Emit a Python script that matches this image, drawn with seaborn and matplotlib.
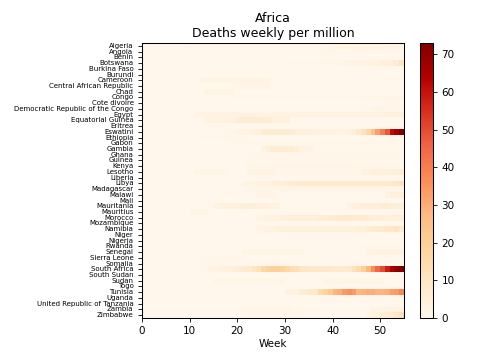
import numpy as np
import pandas as pd
import matplotlib
matplotlib.use("Agg")
import matplotlib.pyplot as plt
import seaborn as sns

countries = [
    "Algeria", "Angola", "Benin", "Botswana", "Burkina Faso", "Burundi", "Cameroon",
    "Central African Republic", "Chad", "Congo", "Cote divoire",
    "Democratic Republic of the Congo", "Egypt", "Equatorial Guinea", "Eritrea",
    "Eswatini", "Ethiopia", "Gabon", "Gambia", "Ghana", "Guinea", "Kenya", "Lesotho",
    "Liberia", "Libya", "Madagascar", "Malawi", "Mali", "Mauritania", "Mauritius",
    "Morocco", "Mozambique", "Namibia", "Niger", "Nigeria", "Rwanda", "Senegal",
    "Sierra Leone", "Somalia", "South Africa", "South Sudan", "Sudan", "Togo",
    "Tunisia", "Uganda", "United Republic of Tanzania", "Zambia", "Zimbabwe",
]
n_weeks = 55
x_ticks = [0, 10, 20, 30, 40, 50]

# country -> list of (first week, weekly values); other weeks are 0
segments = {
    "Algeria": [(8, [1, 1, 1, 1, 1, 1, 1, 1, 1, 1, 1, 1, 1, 1, 1, 1, 1, 1, 1, 1, 1, 1, 1, 1,
                     1, 1, 1, 1, 1, 1, 1, 1, 1.5, 2, 2, 2, 2, 2, 2, 2, 2, 2, 2, 1.5, 1.5, 1.5, 1.5])],
    "Angola": [(38, [1, 1, 1, 1, 1, 1, 1, 1, 1, 1, 1, 1, 1, 1, 1, 1, 1])],
    "Botswana": [(30, [1, 1, 1, 1, 1, 1, 1, 1, 1, 1, 1, 1.5, 1.5, 2, 2, 2, 2, 3, 3, 3, 4, 4, 5, 6, 11])],
    "Cameroon": [(12, [2, 2, 2, 2, 2, 2, 2, 2.5, 2.5, 2.5, 2.5, 2, 2, 2, 2])],
    "Central African Republic": [(19, [1.5, 1.5, 1.5, 1.5, 1.5, 1.5, 1.5, 1.5])],
    "Chad": [(13, [2, 2, 2, 2, 2, 2])],
    "Congo": [(19, [1, 1, 1, 1, 1, 1, 1, 1, 1, 1, 1, 1, 1, 1, 1, 1, 1, 1, 1, 1, 1, 1, 1, 1,
                    1, 1, 1, 1, 1.5, 1.5, 1.5, 1.5, 1.5, 1.5, 1.5, 1.5])],
    "Cote divoire": [(20, [0.5] * 35)],
    "Democratic Republic of the Congo": [(46, [1, 1, 1.5, 1.5, 1.5, 1, 1, 1, 1])],
    "Egypt": [(11, [2, 2, 2, 2, 3, 3, 3, 3, 3, 3, 3, 3, 3, 3, 3, 3, 3, 3, 3, 3, 3, 3,
                    3, 3, 3, 3, 3, 3, 3, 3, 3, 3, 3, 3, 3, 3, 3, 3, 3, 3, 4, 4, 4, 4])],
    "Equatorial Guinea": [(13, [3, 3, 3, 3, 3, 3.5, 3.5, 6, 6, 6, 6, 6.5, 6.5, 6.5, 4, 4, 4, 4])],
    "Eswatini": [(19, [1, 2, 2, 2, 3, 4, 6, 7, 7, 7, 7, 7, 6, 5, 4, 4, 4, 3, 3, 3, 3, 2, 2,
                       2, 3, 5, 8, 12, 17, 25, 33, 40, 48, 62, 66, 73])],
    "Ethiopia": [(12, [1, 1, 1, 1, 1, 1, 1, 1, 1])],
    "Gabon": [(20, [0.7] * 35)],
    "Gambia": [(25, [3, 5, 6, 6, 6, 6, 6, 5, 3, 2, 2])],
    "Ghana": [(22, [1] * 33)],
    "Guinea": [(20, [0.5] * 35)],
    "Kenya": [(22, [1.5] * 29)],
    "Lesotho": [(11, [1.5, 1.5, 1.5, 1.5, 1.5, 1.5, 1.5]),
                (22, [2.5, 2.5, 2.5, 2.5, 2.5, 2.5, 1, 1, 1, 1, 1, 1, 1, 1, 1, 1, 1, 1, 1, 1,
                      1, 1, 1, 1, 3, 3, 4, 4, 4, 4, 5, 5, 6])],
    "Liberia": [(20, [0.5] * 11)],
    "Libya": [(21, [2, 2, 2, 3, 3, 3, 4, 5, 5, 6, 7, 8, 8, 8, 8, 8, 8, 8, 8, 8, 8, 8, 8, 8,
                    8, 8, 8, 8, 8, 8, 8, 9, 9, 12])],
    "Madagascar": [(22, [1.5] * 33)],
    "Malawi": [(24, [1.5, 1.5, 1.5, 1.5]), (51, [3, 4, 4, 5])],
    "Mali": [(20, [0.5] * 35)],
    "Mauritania": [(15, [2, 3, 4, 4, 4, 4, 5, 5, 5, 4, 4, 3, 3, 3]),
                   (43, [3, 4, 4, 5, 5, 5, 5, 6, 6, 5, 5, 4])],
    "Mauritius": [(10, [1.5, 1.5, 1.5, 1.5])],
    "Morocco": [(24, [2, 2, 3, 3, 3, 4, 5, 5, 5, 5, 5, 5, 5, 6, 6, 7, 8, 8, 8, 8, 8, 7, 7,
                      6, 5, 5, 4, 4, 4, 4, 4])],
    "Mozambique": [(25, [0.5] * 30)],
    "Namibia": [(24, [2, 2, 3, 3, 4, 4, 4, 4, 4, 4, 4, 4, 4, 4, 4, 4, 4, 4, 4, 4, 4,
                      5, 5, 6, 7, 8, 8, 9, 9, 11, 8])],
    "Nigeria": [(24, [0.4] * 31)],
    "Rwanda": [(46, [1] * 9)],
    "Senegal": [(21, [1.5] * 13), (47, [2, 2, 3, 3, 3, 3, 3, 3])],
    "Sierra Leone": [(13, [1] * 8)],
    "Somalia": [(12, [0.7] * 19)],
    "South Africa": [(12, [1, 1, 2, 2, 3, 4, 4, 5, 6, 7, 8, 10, 12, 17, 19, 20, 20, 19, 16,
                           14, 13, 10, 10, 9, 9, 9, 9, 9, 8, 8, 8, 9, 12, 15, 20, 28, 37,
                           45, 50, 58, 65, 71, 73])],
    "Sudan": [(15, [1.5] * 15), (38, [1.5] * 13)],
    "Tunisia": [(30, [2, 3, 3, 6, 7, 8, 9, 15, 18, 22, 28, 30, 34, 36, 34, 28, 29, 30, 30,
                      29, 29, 30, 33, 34, 38])],
    "Uganda": [(30, [0.3] * 25)],
    "Zambia": [(22, [1.5] * 9), (48, [2, 2, 3, 3, 3, 3, 3])],
    "Zimbabwe": [(22, [1] * 13), (47, [2, 3, 4, 5, 6, 7, 9, 12])],
}

rows = []
for c in countries:
    row = np.zeros(n_weeks)
    for start, vals in segments.get(c, []):
        row[start:start + len(vals)] = vals
    rows.append(row)
df = pd.DataFrame(np.array(rows), index=countries, columns=range(n_weeks))

fig = plt.figure(figsize=(4.8, 3.6), dpi=100)
ax = fig.add_axes([142 / 480, 1 - 318 / 360, 262 / 480, 275 / 360])
cax = fig.add_axes([420 / 480, 1 - 318 / 360, 13 / 480, 275 / 360])

sns.heatmap(df, ax=ax, cbar_ax=cax, cmap="OrRd", vmin=0, xticklabels=False,
            yticklabels=countries)

for sp in ax.spines.values():
    sp.set_visible(True)
    sp.set_linewidth(0.75)
    sp.set_color("black")
cb = ax.collections[0].colorbar
cb.outline.set_visible(True)
cb.outline.set_linewidth(0.75)
cb.outline.set_edgecolor("black")
cb.set_ticks([0, 10, 20, 30, 40, 50, 60, 70])
cax.tick_params(labelsize=7.5, length=2.6, width=0.6)

ax.set_xticks(x_ticks)
ax.set_xticklabels([str(t) for t in x_ticks], rotation=0)
ax.set_yticks(np.arange(len(countries)) + 0.5)
ax.set_yticklabels(countries, rotation=0, fontsize=5)
ax.tick_params(axis="x", labelsize=7.5, length=2.6, width=0.6, bottom=True)
ax.tick_params(axis="y", length=2.6, width=0.6, left=True)
ax.set_xlabel("Week", fontsize=7.5, labelpad=2)
ax.set_ylabel("")
ax.set_title("Africa\nDeaths weekly per million", fontsize=9, pad=4)

fig.savefig("out.png", dpi=100)
